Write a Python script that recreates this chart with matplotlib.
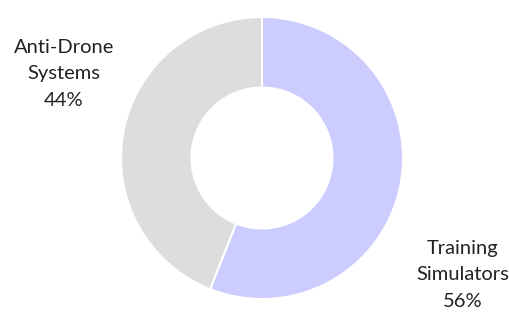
import matplotlib.pyplot as plt

# 数据
labels = ["Training\nSimulators", "Anti-Drone\nSystems"]
shares = [56, 44]
colors = ["#CCCCFF", "#DDDDDD"]

W, H = 510, 332
fig = plt.figure(figsize=(W / 100, H / 100), dpi=100)

# 圆心 (262,158)，外半径约 141 像素
cx, cy, r = 262, 158, 141
ax = fig.add_axes([(cx - r) / W, (H - cy - r) / H, 2 * r / W, 2 * r / H])
ax.pie(shares, colors=colors, startangle=90, counterclock=False, radius=1,
       wedgeprops=dict(width=0.5, edgecolor="white", linewidth=1.5))
ax.set_xlim(-1, 1)
ax.set_ylim(-1, 1)
ax.set_aspect("equal")
ax.axis("off")

# 标签
pos = [(463, 275), (64, 74)]
for lab, val, (px, py) in zip(labels, shares, pos):
    fig.text(px / W, 1 - py / H, f"{lab}\n{val}%", ha="center", va="center",
             fontsize=14.5, family="Lato", color="#222222", linespacing=1.65)

plt.savefig("out.png", dpi=100)
